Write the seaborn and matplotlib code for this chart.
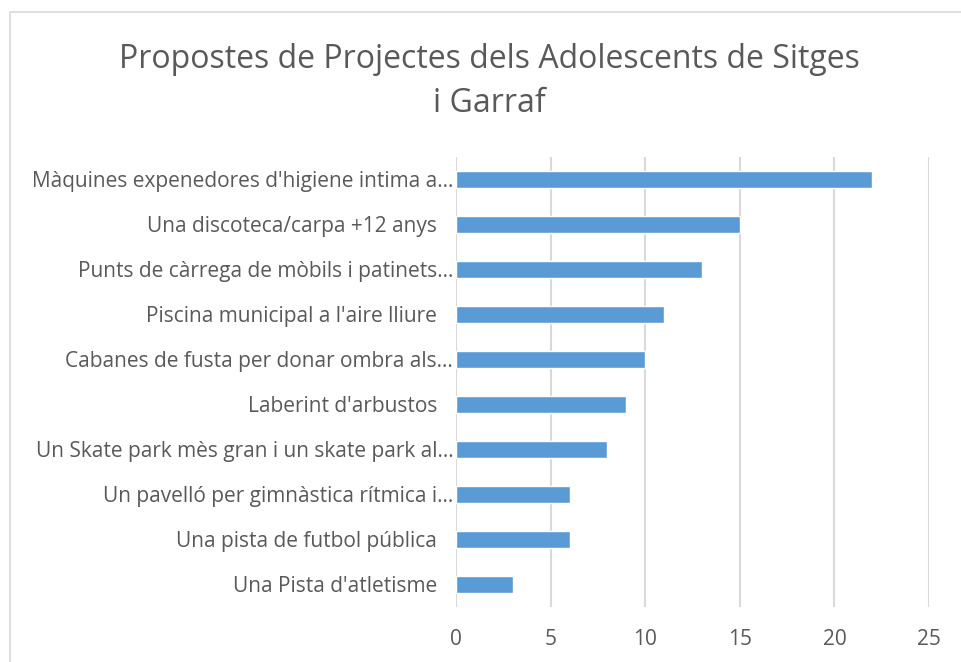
import matplotlib.pyplot as plt
import matplotlib.patches as mpatches
import pandas as pd
import seaborn as sns

# Projects proposed, as labelled on the chart (top to bottom)
projects = [
    "Màquines expenedores d'higiene intima a...",
    "Una discoteca/carpa +12 anys   ",
    "Punts de càrrega de mòbils i patinets...",
    "Piscina municipal a l'aire lliure   ",
    "Cabanes de fusta per donar ombra als...",
    "Laberint d'arbustos   ",
    "Un Skate park mès gran i un skate park al...",
    "Un pavelló per gimnàstica rítmica i...",
    "Una pista de futbol pública   ",
    "Una Pista d'atletisme   ",
]
votes = [22, 15, 13, 11, 10, 9, 8, 6, 6, 3]
x_ticks = [0, 5, 10, 15, 20, 25]

data = pd.DataFrame({'Project': projects, 'Votes': votes})

sns.set_style("white")
plt.rcParams['font.family'] = ['Open Sans', 'DejaVu Sans']

grey_text = "#595959"

fig = plt.figure(figsize=(9.61, 6.62), dpi=100)
ax = fig.add_axes([456 / 961, 1 - 607 / 662, (929 - 456) / 961, (607 - 157) / 662])

sns.barplot(x='Votes', y='Project', data=data, color="#5b9bd5",
            width=0.36, saturation=1, ax=ax, orient='h')

ax.set_xlim(0, 25)
ax.set_xticks(x_ticks)
ax.set_ylim(9.5, -0.5)
ax.grid(axis='x', color="#d9d9d9", linewidth=1.5)
ax.set_axisbelow(True)
for s in ax.spines.values():
    s.set_visible(False)
ax.set_xlabel('')
ax.set_ylabel('')
ax.tick_params(axis='both', length=0, colors=grey_text, labelsize=15)
ax.tick_params(axis='y', pad=2)
ax.tick_params(axis='x', pad=16)

# Title
fig.text(489 / 961, 1 - 60 / 662, "Propostes de Projectes dels Adolescents de Sitges",
         ha='center', va='center', fontsize=23, color=grey_text)
fig.text(489 / 961, 1 - 103 / 662, "i Garraf",
         ha='center', va='center', fontsize=23, color=grey_text)

# Chart border
border = mpatches.Rectangle((10 / 961, -0.1), 1.2, 1 - 12 / 662 + 0.1,
                            transform=fig.transFigure, fill=False,
                            edgecolor="#d9d9d9", linewidth=1.2)
fig.patches.append(border)

fig.savefig("out.png", dpi=100)
